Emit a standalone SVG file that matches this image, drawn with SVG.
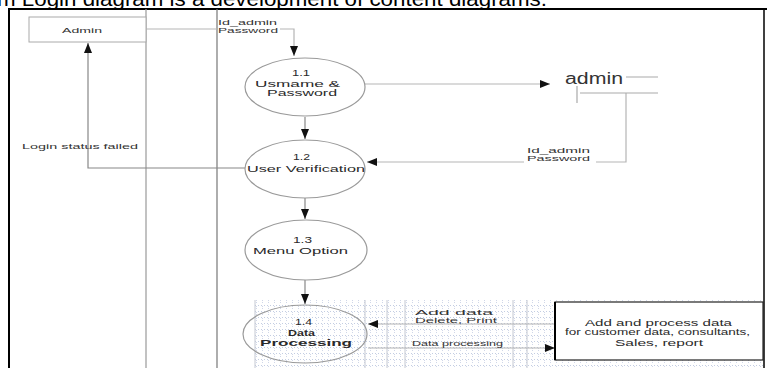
<svg xmlns="http://www.w3.org/2000/svg" width="767" height="368" viewBox="0 0 767 368">
<defs>
<marker id="ah" markerWidth="10" markerHeight="8" refX="10" refY="4" orient="auto" markerUnits="userSpaceOnUse">
<path d="M0,0 L10,4 L0,8 Z" fill="#111"/>
</marker>
<pattern id="grid" width="6" height="6" patternUnits="userSpaceOnUse">
<rect x="0" y="5" width="1" height="1" fill="#c3cde2"/>
<rect x="3" y="5" width="1" height="1" fill="#c3cde2"/>
<rect x="4" y="0" width="1" height="1" fill="#d0d7e8"/>
<rect x="4" y="2" width="1" height="1" fill="#d0d7e8"/>
</pattern>
</defs>
<style>
.cap{font-family:"Liberation Sans",Arial,sans-serif;font-size:20px;fill:#000}
.t{font-family:"Liberation Sans",Arial,sans-serif;font-size:7.5px;fill:#333}
.tb{font-family:"Liberation Sans",Arial,sans-serif;font-size:9px;fill:#2a2a2a}
.bold{font-weight:bold}
.ell{fill:#fff;stroke:#9a9a9a;stroke-width:1.2}
.ln{fill:none;stroke:#b5b5b5;stroke-width:1.2}
.lnd{fill:none;stroke:#888;stroke-width:1.2}
</style>
<rect width="767" height="368" fill="#fff"/>
<text class="cap" x="-3" y="6" textLength="550" lengthAdjust="spacingAndGlyphs">m Login diagram is a development of content diagrams.</text>
<g id="frame">
<path d="M9,368 L9,9 L767,9" fill="none" stroke="#000" stroke-width="2"/>
<path d="M764,9 L764,368" fill="none" stroke="#000" stroke-width="1.5"/>
<line x1="146" y1="9" x2="146" y2="368" stroke="#999" stroke-width="1.2"/>
<line x1="217" y1="9" x2="217" y2="368" stroke="#777" stroke-width="1.2"/>
</g>
<g id="tablegrid">
<rect x="255" y="300" width="509" height="68" fill="url(#grid)"/>
<g stroke="#c4c8d2" stroke-width="1">
<line x1="255" y1="300" x2="255" y2="368"/>
<line x1="365" y1="300" x2="365" y2="368"/>
<line x1="387" y1="300" x2="387" y2="368"/>
<line x1="405" y1="300" x2="405" y2="368"/>
<line x1="513" y1="300" x2="513" y2="368"/>
<line x1="527" y1="300" x2="527" y2="368"/>
</g>
</g>
<g id="connectors">
<path class="ln" d="M146,29 L217,29"/>
<path class="ln" d="M280,29 L294,29 L294,56" marker-end="url(#ah)"/>
<path class="ln" d="M365,84 L550,84" marker-end="url(#ah)"/>
<path class="lnd" d="M305,117 L305,139" marker-end="url(#ah)"/>
<path class="ln" d="M626,93 L626,162 L596,162"/>
<path class="ln" d="M524,162 L367,162" marker-end="url(#ah)"/>
<path class="lnd" d="M245,168 L88,168 L88,43" marker-end="url(#ah)"/>
<path class="lnd" d="M305,198 L305,219" marker-end="url(#ah)"/>
<path class="lnd" d="M305,280 L305,304" marker-end="url(#ah)"/>
<path class="ln" d="M555,324 L368,324" marker-end="url(#ah)"/>
<path class="ln" d="M368,348 L555,348" marker-end="url(#ah)"/>
<text class="t" x="218" y="25" textLength="59" lengthAdjust="spacingAndGlyphs">Id_admin</text>
<text class="t" x="218" y="33" textLength="60" lengthAdjust="spacingAndGlyphs">Password</text>
<text class="t" x="527" y="153" textLength="63" lengthAdjust="spacingAndGlyphs">Id_admin</text>
<text class="t" x="527" y="161" textLength="63" lengthAdjust="spacingAndGlyphs">Password</text>
<text class="t" x="22" y="149" textLength="116" lengthAdjust="spacingAndGlyphs">Login status failed</text>
<text class="t" x="415" y="315" textLength="78" lengthAdjust="spacingAndGlyphs">Add data</text>
<text class="t" x="415" y="323" textLength="82" lengthAdjust="spacingAndGlyphs">Delete, Print</text>
<text class="t" x="412" y="346" textLength="91" lengthAdjust="spacingAndGlyphs">Data processing</text>
</g>
<g id="admin">
<rect x="29" y="17" width="117" height="25" fill="#fff" stroke="#aaa" stroke-width="1"/>
<text class="t" x="62" y="33" textLength="40" lengthAdjust="spacingAndGlyphs">Admin</text>
</g>
<g id="p11">
<ellipse class="ell" cx="305" cy="87" rx="60" ry="29"/>
<text class="tb" x="292" y="76" textLength="18" lengthAdjust="spacingAndGlyphs">1.1</text>
<text class="tb" x="255" y="87" textLength="85" lengthAdjust="spacingAndGlyphs">Usmame &amp;</text>
<text class="tb" x="267" y="96" textLength="70" lengthAdjust="spacingAndGlyphs">Password</text>
</g>
<g id="store">
<text x="565" y="84" font-family="'Liberation Sans',Arial,sans-serif" font-size="16" fill="#333" textLength="58" lengthAdjust="spacingAndGlyphs">admin</text>
<path d="M626,77 L658,77 M580,93 L658,93 M577,86 L577,103" fill="none" stroke="#aaa" stroke-width="1.2"/>
</g>
<g id="p12">
<ellipse class="ell" cx="305" cy="169" rx="60" ry="29"/>
<text class="tb" x="293" y="160" textLength="17" lengthAdjust="spacingAndGlyphs">1.2</text>
<text class="tb" x="247" y="172" textLength="118" lengthAdjust="spacingAndGlyphs">User Verification</text>
</g>
<g id="p13">
<ellipse class="ell" cx="306" cy="250" rx="61" ry="30"/>
<text class="tb" x="293" y="243" textLength="19" lengthAdjust="spacingAndGlyphs">1.3</text>
<text class="tb" x="253" y="254" textLength="95" lengthAdjust="spacingAndGlyphs">Menu Option</text>
</g>
<g id="p14">
<ellipse class="ell" cx="305" cy="334" rx="62" ry="29" fill-opacity="0"/>
<text class="tb" x="295" y="325" textLength="17" lengthAdjust="spacingAndGlyphs">1.4</text>
<text class="tb bold" x="288" y="336" textLength="27" lengthAdjust="spacingAndGlyphs">Data</text>
<text class="tb bold" x="260" y="346" textLength="92" lengthAdjust="spacingAndGlyphs">Processing</text>
</g>
<g id="ext">
<rect x="555" y="302" width="208" height="58" fill="#fff" stroke="#222" stroke-width="1.2"/>
<line x1="555" y1="302" x2="555" y2="360" stroke="#000" stroke-width="2"/>
<text class="tb" x="585" y="326" textLength="147" lengthAdjust="spacingAndGlyphs">Add and process data</text>
<text class="tb" x="565" y="335" textLength="185" lengthAdjust="spacingAndGlyphs">for customer data, consultants,</text>
<text class="tb" x="615" y="346" textLength="88" lengthAdjust="spacingAndGlyphs">Sales, report</text>
</g>
</svg>
